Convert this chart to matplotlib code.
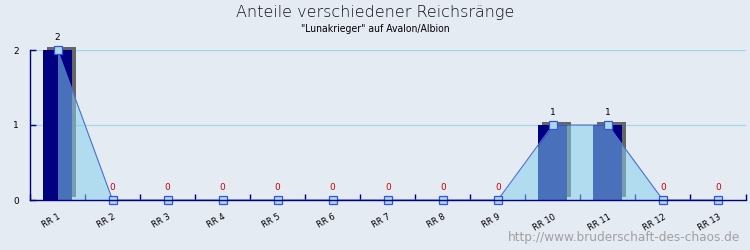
import matplotlib
matplotlib.use("Agg")
import matplotlib.pyplot as plt
import matplotlib.transforms as mtransforms
import numpy as np

categories = ["RR 1", "RR 2", "RR 3", "RR 4", "RR 5", "RR 6", "RR 7",
              "RR 8", "RR 9", "RR 10", "RR 11", "RR 12", "RR 13"]
values = [2, 0, 0, 0, 0, 0, 0, 0, 0, 1, 1, 0, 0]
title = "Anteile verschiedener Reichsränge"
subtitle = '"Lunakrieger" auf Avalon/Albion'
watermark = "http://www.bruderschaft-des-chaos.de"

bg = "#e5ebf3"
fig = plt.figure(figsize=(7.5, 2.5), dpi=100, facecolor=bg)
ax = fig.add_axes([30 / 750, 50 / 250, 715.5 / 750, 150 / 250])
ax.set_facecolor(bg)

x = np.arange(len(categories))
ax.set_xlim(-0.5, len(categories) - 0.5)
ax.set_ylim(0, 2)

# grid
for yv in [1, 2]:
    ax.axhline(yv, color="#a8d8e6", lw=1, zorder=1)

# bar shadow
shadow_tr = ax.transData + mtransforms.ScaledTranslation(4 / 100, 3 / 100, fig.dpi_scale_trans)
ax.bar(x, values, width=0.53, color="#666666", zorder=2, transform=shadow_tr, clip_on=False)
ax.bar(x, values, width=0.53, color="#000080", zorder=3)

# area + line
ax.fill_between(x, values, 0, color="#87ceeb", alpha=0.55, lw=0, zorder=4)
ax.plot(x, values, color="#4a6fd0", lw=0.8, zorder=5)
ax.plot(x, values, ls="none", marker="s", ms=5.5, mfc="#add8e6", mec="#3355dd",
        mew=0.9, zorder=6, clip_on=False)

# value labels
for xi, v in zip(x, values):
    ax.annotate(str(v), (xi, v), xytext=(0, 6), textcoords="offset points",
                ha="center", va="bottom", fontsize=6.5,
                color="#000000" if v > 0 else "#cc0000", zorder=7)

# axes styling
for s in ["top", "right"]:
    ax.spines[s].set_visible(False)
for s in ["left", "bottom"]:
    ax.spines[s].set_color("#000080")
    ax.spines[s].set_linewidth(1.0)
    ax.spines[s].set_zorder(8)

ax.set_yticks([0, 1, 2])
ax.set_yticklabels(["0", "1", "2"], fontsize=6.5)
ax.tick_params(axis="y", direction="in", length=4, color="#000080", pad=8, width=1)

ax.set_xticks(x)
ax.set_xticklabels(categories, fontsize=6, rotation=30, ha="right", rotation_mode="anchor")
ax.tick_params(axis="x", which="major", length=0, pad=9)
ax.set_xticks(np.arange(-0.5, len(categories)), minor=True)
ax.tick_params(axis="x", which="minor", direction="in", length=4, color="#000080", width=1)

fig.text(0.5, 1 - 12 / 250, title, ha="center", va="center", fontsize=11.5,
         color="#111111", fontweight="light")
fig.text(0.5, 1 - 29 / 250, subtitle, ha="center", va="center", fontsize=7.5,
         color="#000000", fontstretch="condensed")
fig.text(740 / 750, 1 - 238 / 250, watermark, ha="right", va="center", fontsize=8.7,
         color="#a0a0a0")

fig.savefig("out.png", dpi=100, facecolor=bg)
